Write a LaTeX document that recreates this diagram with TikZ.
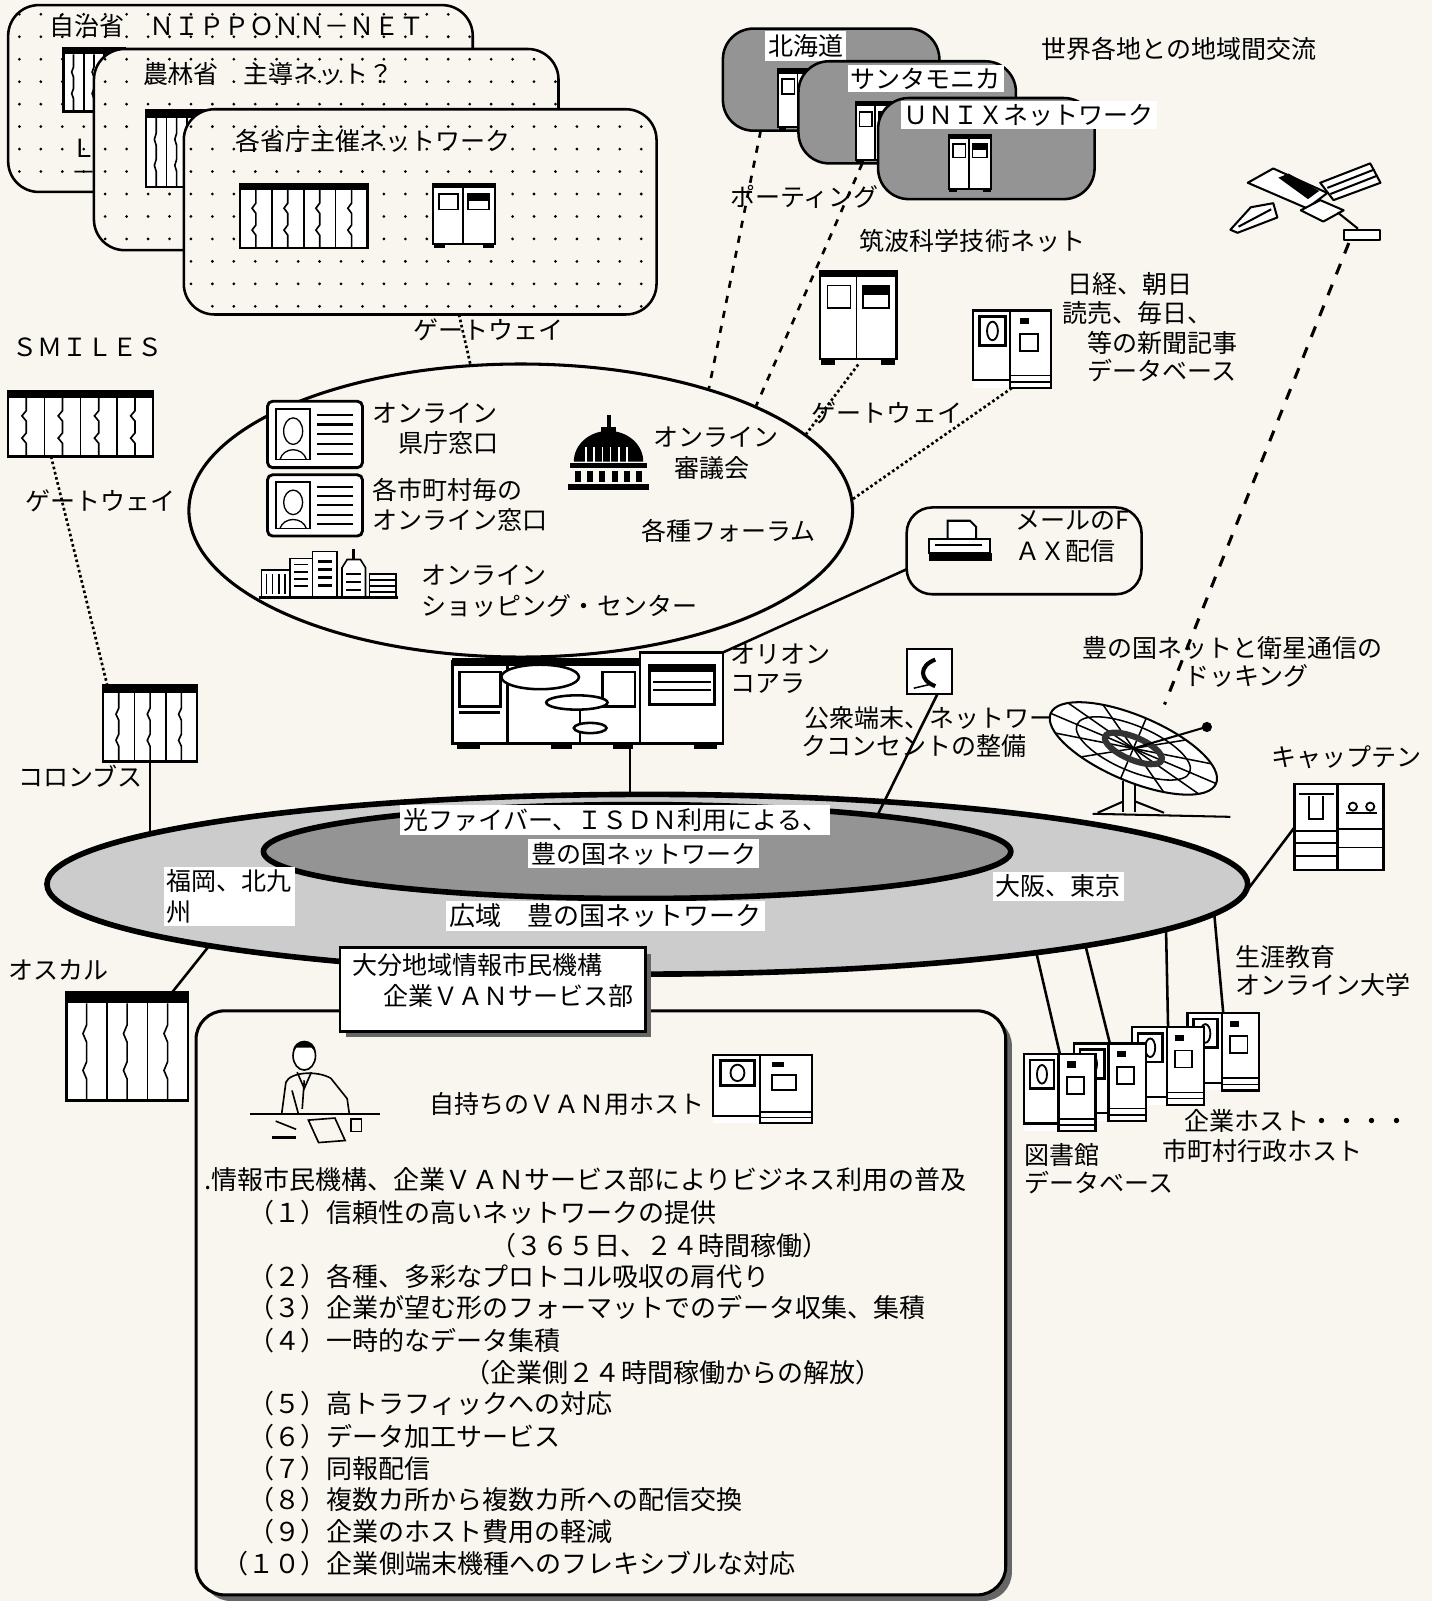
\documentclass[tikz,border=0pt]{standalone}
\usepackage{fontspec}
\setmainfont{Noto Sans CJK JP}
\usepackage{tikz}
\usetikzlibrary{shapes.geometric,positioning}

\definecolor{paper}{RGB}{248,246,239}
\newcommand{\jfont}{\fontsize{24.5}{29.5}\selectfont}
\newcommand{\listfont}{\fontsize{25.5}{31}\selectfont}

% dotted panel of a ministry network
\newcommand{\dotcard}[4]{%
  \begin{scope}
    \clip[rounded corners=30pt] (#1,#2) rectangle (#3,#4);
    \fill[paper] (#1,#2) rectangle (#3,#4);
    \foreach \dx in {19,40,...,660}
      \foreach \dy in {14,36,...,320}
        \fill (\dx,\dy) circle (1.5);
  \end{scope}
  \draw[line width=2.5pt,rounded corners=30pt] (#1,#2) rectangle (#3,#4);
}
% shaded panel of a regional network
\newcommand{\graycard}[4]{%
  \draw[line width=2.5pt,rounded corners=30pt,fill=black!42] (#1,#2) rectangle (#3,#4);
}

\tikzset{
  pics/rackicon/.style={code={
    \fill[white] (0,0) rectangle (1,1);
    \fill[black] (0,0) rectangle (1,0.1);
    \draw[line width=2.5pt] (0,0) rectangle (1,1);
    \foreach \k in {1,...,#1} {
      \pgfmathsetmacro{\bx}{\k/#1}
      \pgfmathsetmacro{\wx}{(\k-0.5)/#1}
      \draw[line width=1.6pt] (\bx,0.1) -- (\bx,1);
      \draw[line width=1.6pt] (\wx,0.1) -- (\wx,0.3) -- (\wx-0.03,0.38) -- (\wx,0.46)
        -- (\wx,0.64) -- (\wx-0.03,0.72) -- (\wx,0.8) -- (\wx,1);
    }
  }},
  pics/hosticon/.style={code={
    \fill[white] (0,0) rectangle (1,0.94);
    \fill (0,0) rectangle (1,0.07);
    \draw[line width=2pt] (0,0) rectangle (1,0.94);
    \draw[line width=1.5pt] (0.48,0.07) -- (0.48,0.94);
    \draw[line width=1.5pt] (0.1,0.16) rectangle (0.4,0.4);
    \draw[line width=1.5pt] (0.56,0.16) rectangle (0.9,0.4);
    \fill (0.56,0.16) rectangle (0.9,0.26);
    \fill (0.02,0.94) rectangle (0.2,1);
    \fill (0.8,0.94) rectangle (0.98,1);
  }},
  pics/diskhost/.style={code={
    \fill[white] (0,0) rectangle (1,1);
    \draw[line width=2.2pt] (0,0) rectangle (0.48,0.9);
    \draw[line width=2.2pt] (0.48,0) rectangle (1,1);
    \draw[line width=2.6pt] (0.08,0.08) rectangle (0.42,0.45);
    \draw[line width=1.8pt] (0.25,0.265) ellipse (0.07 and 0.12);
    \fill (0.6,0.1) rectangle (0.72,0.18);
    \draw[line width=1.8pt] (0.6,0.3) rectangle (0.84,0.52);
    \draw[line width=1.5pt] (0.48,0.84) -- (1,0.84);
    \draw[line width=1.5pt] (0.48,0.92) -- (1,0.92);
  }},
  pics/idcard/.style={code={
    \draw[line width=2.8pt,rounded corners=5pt,fill=white] (0,0) rectangle (1,1);
    \draw[line width=1.5pt] (0.09,0.12) rectangle (0.45,0.88);
    \draw[line width=1.3pt] (0.27,0.45) ellipse (0.1 and 0.2);
    \draw[line width=1.3pt] (0.13,0.88) .. controls (0.17,0.68) and (0.37,0.68) .. (0.41,0.88);
    \foreach \ly in {0.2,0.35,0.5,0.65,0.8}
      \draw[line width=2pt] (0.52,\ly) -- (0.9,\ly);
  }}
}

\begin{document}
\begin{tikzpicture}[x=1pt,y=-1pt,
  lbl/.style={anchor=west,align=left,font=\jfont},
  listlbl/.style={anchor=west,font=\listfont},
  boxlbl/.style={lbl,fill=white,inner sep=3pt},
  iconbox/.style={anchor=north west,inner sep=0pt,outer sep=0pt},
  dotline/.style={line width=2.6pt,dash pattern=on 2.6pt off 2.6pt},
  dashline/.style={line width=2.6pt,dash pattern=on 7pt off 8pt},
  longdash/.style={line width=3pt,dash pattern=on 11pt off 11pt},
  link/.style={line width=2.5pt}]
\tikzstyle{every node}+=[inner sep=0pt]
\fill[paper] (0,0) rectangle (1402,1568);
\useasboundingbox (0,0) rectangle (1402,1568);

% ministry networks
\dotcard{8}{5}{463}{188}
\node[lbl] (jichi) at (48,25) {自治省　ＮＩＰＰＯＮＮ－ＮＥＴ};
\pic[xscale=60,yscale=62] at (62,47) {rackicon=3};
\node[lbl,anchor=north west] (jichil) at (70,136) {Ｌ\\[-6pt]－};
\dotcard{92}{48}{547}{245}
\node[lbl] (norin) at (140,72) {農林省　主導ネット？};
\pic[xscale=60,yscale=75] at (143,108) {rackicon=3};
\dotcard{180}{107}{643}{308}
\node[iconbox,minimum width=463pt,minimum height=201pt] (kakusho) at (180,107) {};
\node[lbl] (kakusholbl) at (230,138) {各省庁主催ネットワーク};
\pic[xscale=125,yscale=63] at (235,180) {rackicon=4};
\pic[xscale=61,yscale=63] at (424,180) {hosticon};

% regional networks
\graycard{708}{28}{920}{128}
\node[iconbox,minimum width=212pt,minimum height=100pt] (hokkaido) at (708,28) {};
\pic[xscale=40,yscale=60] at (762,68) {hosticon};
\node[boxlbl] (hokkaidolbl) at (749,45) {北海道};
\graycard{782}{60}{995}{160}
\node[iconbox,minimum width=213pt,minimum height=100pt] (santa) at (782,60) {};
\pic[xscale=40,yscale=60] at (838,100) {hosticon};
\node[boxlbl] (santalbl) at (830,77) {サンタモニカ};
\graycard{860}{96}{1072}{195}
\pic[xscale=42,yscale=56] at (929,132) {hosticon};
\node[boxlbl] (unixlbl) at (882,113) {ＵＮＩＸネットワーク};
\node[lbl] (world) at (1020,48) {世界各地との地域間交流};
\node[lbl] (porting) at (715,193) {ポーティング};
\node[lbl] (tsukubalbl) at (842,236) {筑波科学技術ネット};
\node[iconbox,minimum width=75pt,minimum height=92pt] (tsukuba) at (803,265) {};
\pic[xscale=75,yscale=92] at (tsukuba.north west) {hosticon};
\node[iconbox,minimum width=76pt,minimum height=76pt] (nikkei) at (953,304) {};
\pic[xscale=76,yscale=76] at (nikkei.north west) {diskhost};
\node[lbl] (news1) at (1045,278) {日経、朝日};
\node[lbl] (news2) at (1040,307) {読売、毎日、};
\node[lbl] (news3) at (1065,336) {等の新聞記事};
\node[lbl] (news4) at (1065,363) {データベース};

% satellite
\node[iconbox,minimum width=150pt,minimum height=79pt] (satellite) at (1205,159) {};
\begin{scope}[line width=2pt,line join=round]
  \draw[fill=white] (1222,179) -- (1247,165) -- (1300,189) -- (1280,204) -- cycle;
  \fill (1252,174) -- (1262,170) -- (1292,187) -- (1281,195) -- cycle;
  \draw[fill=white] (1293,179) -- (1342,160) -- (1352,179) -- (1306,196) -- cycle;
  \draw (1300,184) -- (1346,166);
  \draw (1303,190) -- (1349,172);
  \draw[fill=white] (1274,206) -- (1293,196) -- (1316,206) -- (1296,217) -- cycle;
  \draw[fill=white] (1205,225) -- (1225,203) -- (1247,199) -- (1251,213) -- (1212,228) -- cycle;
  \draw (1213,222) -- (1245,205);
  \draw (1310,208) -- (1330,224);
  \draw[fill=white] (1316,225) rectangle (1352,235);
\end{scope}

% gateways to the forum
\node[lbl] (gw1) at (405,323) {ゲートウェイ};
\node[lbl] (smileslbl) at (12,340) {ＳＭＩＬＥＳ};
\node[iconbox,minimum width=142pt,minimum height=64pt] (smiles) at (8,383) {};
\pic[xscale=142,yscale=64] at (smiles.north west) {rackicon=4};
\node[lbl] (gw2) at (25,491) {ゲートウェイ};
\node[lbl] (gw3) at (795,404) {ゲートウェイ};

% host of the forum
\node[iconbox,minimum width=265pt,minimum height=89pt] (orion) at (443,639) {};
\begin{scope}[line width=2.5pt]
  \draw[fill=white] (443,648) rectangle (627,728);
  \draw[fill=white] (627,639) rectangle (708,728);
  \fill (443,644) rectangle (627,652);
  \draw (497,652) -- (497,728);
  \draw (450,658) rectangle (490,692);
  \draw (450,698) -- (490,698);
  \draw (590,658) rectangle (622,692);
  \draw[fill=white] (529,663) ellipse (38 and 12);
  \draw[fill=white] (565,688) ellipse (30 and 7);
  \draw (568,695) -- (568,728);
  \draw[fill=white] (578,713) ellipse (16 and 5);
  \draw (636,652) rectangle (700,690);
  \fill (636,652) rectangle (700,658);
  \draw[line width=1.5pt] (640,668) -- (696,668);
  \draw[line width=1.5pt] (640,676) -- (696,676);
  \fill (448,728) rectangle (470,734);
  \fill (540,728) rectangle (560,734);
  \fill (600,728) rectangle (620,734);
  \fill (680,728) rectangle (702,734);
\end{scope}
\node[lbl] (orionlbl) at (715,641) {オリオン};
\node[lbl] (koalalbl) at (715,670) {コアラ};

% forum and its services
\node[ellipse,draw,line width=3pt,minimum width=650pt,minimum height=287pt] (forum) at (510,500) {};
\pic[xscale=93,yscale=65] at (262,393) {idcard};
\node[lbl] (kencho1) at (365,405) {オンライン};
\node[lbl] (kencho2) at (390,434) {県庁窓口};
\pic[xscale=93,yscale=60] at (262,465) {idcard};
\node[lbl] (shicho1) at (365,480) {各市町村毎の};
\node[lbl] (shicho2) at (365,509) {オンライン窓口};
\begin{scope}[line width=1.6pt]
  \draw[fill=white] (256,558) rectangle (284,585);
  \foreach \xx in {261,267,273,279} \draw (\xx,562) -- (\xx,582);
  \draw[fill=white] (284,547) rectangle (306,585);
  \foreach \yy in {553,560,567,574} \draw (288,\yy) -- (302,\yy);
  \draw[fill=white] (306,540) rectangle (330,585);
  \foreach \yy in {548,556,564,572} \fill (311,\yy) rectangle (325,\yy+3);
  \fill (345,538) rectangle (348,548);
  \draw[fill=white] (335,556) -- (340,548) -- (353,548) -- (358,556) -- (358,585) -- (335,585) -- cycle;
  \foreach \yy in {562,570,578} \draw (339,\yy) -- (354,\yy);
  \draw[fill=white] (362,562) rectangle (388,585);
  \foreach \yy in {568,574,580} \draw (362,\yy) -- (388,\yy);
  \draw[line width=2.5pt] (254,585) -- (390,585);
\end{scope}
\node[lbl] (shop1) at (413,563) {オンライン};
\node[lbl] (shop2) at (413,593) {ショッピング・センター};
\fill (594,406) rectangle (598,420);
\fill (589,418) rectangle (603,424);
\fill (562,452) arc[start angle=180,end angle=360,x radius=34,y radius=30];
\foreach \xx in {574,582,590,598,606,614} \draw[white,line width=1.5pt] (\xx,438) -- (\xx,452);
\fill (558,453) rectangle (634,458);
\foreach \xx in {566,578,590,602,614,626} \fill (\xx-3,461) rectangle (\xx+3,472);
\fill (556,474) rectangle (636,480);
\node[lbl] (shingi1) at (640,428) {オンライン};
\node[lbl] (shingi2) at (660,458) {審議会};
\node[lbl] (forumlbl) at (628,520) {各種フォーラム};

% mail to fax
\node[iconbox,draw,line width=2.5pt,rounded corners=25pt,minimum width=230pt,minimum height=85pt] (fax) at (888,497) {};
\begin{scope}[line width=2pt]
  \draw[fill=white] (928,510) -- (950,510) -- (956,516) -- (956,532) -- (928,532) -- cycle;
  \draw[fill=white] (910,528) rectangle (970,542);
  \fill (910,542) rectangle (972,549);
  \draw[line width=1.5pt] (916,534) -- (962,534);
\end{scope}
\node[lbl] (faxlbl1) at (994,510) {メールのF};
\node[lbl] (faxlbl2) at (994,540) {ＡＸ配信};

% public terminal
\node[iconbox,draw,line width=2pt,fill=white,minimum width=44pt,minimum height=44pt] (phone) at (888,636) {};
\draw[line width=4pt] (916,646) .. controls (900,652) and (900,666) .. (916,672);
\draw[line width=1.5pt] (895,674) -- (912,670);
\node[lbl] (publ1) at (788,703) {公衆端末、ネットワー};
\node[lbl] (publ2) at (785,731) {クコンセントの整備};

% satellite link
\node[lbl] (dock1) at (1060,635) {豊の国ネットと衛星通信の};
\node[lbl] (dock2) at (1160,662) {ドッキング};
\node[iconbox,minimum width=169pt,minimum height=87pt] (dish) at (1026,690) {};
\begin{scope}[line width=2pt]
  \draw (1100,765) -- (1100,795);
  \draw (1112,765) -- (1112,795);
  \draw (1075,796) -- (1100,785);
  \draw (1112,785) -- (1140,796);
  \draw (1070,797) -- (1205,800);
  \draw[fill=white,rotate around={-23:(1110,733)}] (1110,733) ellipse (88 and 32);
  \begin{scope}[rotate around={-23:(1110,733)}]
    \foreach \a in {0,30,...,330} \draw[line width=1.5pt] (1110,733) -- ++(\a:88 and 32);
    \draw[line width=1.5pt] (1110,733) ellipse (60 and 22);
    \draw[line width=6pt,black!80] (1110,733) ellipse (30 and 11);
  \end{scope}
  \draw (1110,733) -- (1178,713);
  \fill (1182,712) circle (5);
\end{scope}

% terminal service
\node[lbl] (captainlbl) at (1245,742) {キャップテン};
\node[iconbox,minimum width=87pt,minimum height=84pt] (captain) at (1268,768) {};
\begin{scope}[line width=2.5pt]
  \draw[fill=white] (1268,768) rectangle (1310,852);
  \draw[fill=white] (1310,768) rectangle (1355,852);
  \draw[line width=1.8pt] (1272,778) -- (1306,778);
  \draw[line width=1.8pt] (1282,780) -- (1282,802) -- (1296,802) -- (1296,780);
  \foreach \yy in {814,826,838} \draw[line width=1.8pt] (1268,\yy) -- (1310,\yy);
  \draw[line width=1.8pt] (1325,790) circle (4);
  \draw[line width=1.8pt] (1342,790) circle (4);
  \draw[line width=1.8pt] (1318,796) -- (1349,796);
  \foreach \yy in {812,830} \draw[line width=1.8pt] (1310,\yy) -- (1355,\yy);
\end{scope}

% left hosts
\node[lbl] (columbuslbl) at (18,760) {コロンブス};
\node[iconbox,minimum width=92pt,minimum height=75pt] (columbus) at (101,671) {};
\pic[xscale=92,yscale=75] at (columbus.north west) {rackicon=3};
\node[lbl] (oscarlbl) at (8,950) {オスカル};
\node[iconbox,minimum width=119pt,minimum height=106pt] (oscar) at (65,972) {};
\pic[xscale=119,yscale=106] at (oscar.north west) {rackicon=3};

% library and school hosts
\node[lbl] (school1) at (1210,937) {生涯教育};
\node[lbl] (school2) at (1210,965) {オンライン大学};
\foreach \sx/\sy [count=\n] in {1003/1032,1052/1022,1109/1006,1163/992}
  \node[iconbox,minimum width=70pt,minimum height=76pt] (lib\n) at (\sx,\sy) {};
\foreach \n in {4,3,2,1}
  \pic[xscale=70,yscale=76] at (lib\n.north west) {diskhost};
\node[lbl] (corp1) at (1160,1098) {企業ホスト・・・・};
\node[lbl] (corp2) at (1138,1127) {市町村行政ホスト};
\node[lbl] (libr1) at (1003,1131) {図書館};
\node[lbl] (libr2) at (1003,1158) {データベース};

% connections
\node[ellipse,minimum width=1176pt,minimum height=176pt] (ring) at (634,866) {};
\draw[dotline] ([xshift=38pt]kakusho.south) -- (forum.109);
\draw[dashline] ([xshift=-69pt]hokkaido.south) -- (forum.33);
\draw[dashline] ([xshift=-44pt]santa.south) -- (forum.24);
\draw[dotline] (tsukuba.south) -- (forum.15);
\draw[dotline] (nikkei.south) -- (forum.2);
\draw[dotline] ([xshift=-29pt]smiles.south) -- ([xshift=-42pt]columbus.north);
\draw[longdash] ([xshift=41pt]satellite.south) -- ([xshift=30pt]dish.north);
\draw[link] ([yshift=-18pt]fax.west) -- (orion.north east);
\draw[link] (columbus.south) -- (columbus.south |- ring.174);
\draw[link] ([xshift=41.5pt]orion.south) -- ([xshift=41.5pt]orion.south |- ring.north);
\draw[link] ([xshift=44pt]oscar.north) -- (ring.188);
\draw[link] (ring.-1.5) -- (captain.west);
\foreach \n/\ang in {1/-10,2/-8,3/-5.8,4/-3.6}
  \draw[link] (ring.\ang) -- (lib\n.north);

% wide area ring
\node[ellipse,draw,line width=5.5pt,fill=black!20,minimum width=1176pt,minimum height=176pt] (ringband) at (ring) {};
\node[ellipse,draw,line width=5.5pt,fill=black!42,minimum width=732pt,minimum height=92pt] (fiber) at (624,834) {};
\draw[link] ([xshift=8pt]phone.south) -- (fiber.9);
\node[boxlbl] (fiberlbl1) at (392,803) {光ファイバー、ＩＳＤＮ利用による、};
\node[boxlbl] (fiberlbl2) at (517,836) {豊の国ネットワーク};
\node[boxlbl] (westlbl) at (160,878) {福岡、北九\\州\hspace*{4em}};
\node[boxlbl] (eastlbl) at (972,868) {大阪、東京};
\node[boxlbl,font=\listfont] (ringlbl) at (437,897) {広域　豊の国ネットワーク};

% business service
\fill[black!60] (198,996) [rounded corners=28pt] rectangle (991,1568);
\draw[line width=3pt,fill=paper,rounded corners=28pt] (192,990) rectangle (985,1562);
\fill[black!60] (339,934) rectangle (638,1016);
\draw[line width=2.5pt,fill=white] (333,928) rectangle (632,1010);
\node[lbl] (oita1) at (345,945) {大分地域情報市民機構};
\node[lbl] (oita2) at (375,975) {企業ＶＡＮサービス部};
\begin{scope}[line width=1.6pt]
  \draw[fill=white] (298,1034) ellipse (11 and 14);
  \fill (287,1030) .. controls (287,1016) and (309,1016) .. (309,1030) -- (305,1026) -- (290,1026) -- cycle;
  \draw (276,1090) -- (280,1060) .. controls (284,1050) and (310,1048) .. (324,1056) -- (340,1076) -- (342,1090);
  \draw (291,1050) -- (298,1066) -- (305,1050);
  \draw (298,1058) -- (296,1086);
  \draw (286,1068) -- (292,1090);
  \draw[line width=2pt] (245,1091) -- (372,1091);
  \draw (302,1097) -- (328,1095) -- (338,1117) -- (312,1119) -- cycle;
  \draw (344,1096) rectangle (354,1108);
  \draw (270,1098) -- (290,1106);
  \draw[line width=2.5pt] (266,1114) -- (290,1114);
\end{scope}
\node[lbl] (ownhost) at (420,1081) {自持ちのＶＡＮ用ホスト};
\node[iconbox,minimum width=97pt,minimum height=67pt] (vanhost) at (698,1033) {};
\pic[xscale=97,yscale=67] at (vanhost.north west) {diskhost};
\node[listlbl] (spread) at (200,1155) {.情報市民機構、企業ＶＡＮサービス部によりビジネス利用の普及};
\foreach \ly/\lx/\lt [count=\n] in {
  1188/243/{（１）信頼性の高いネットワークの提供},
  1220/480/{（３６５日、２４時間稼働）},
  1250/243/{（２）各種、多彩なプロトコル吸収の肩代り},
  1281/243/{（３）企業が望む形のフォーマットでのデータ収集、集積},
  1313/243/{（４）一時的なデータ集積},
  1344/455/{（企業側２４時間稼働からの解放）},
  1375/243/{（５）高トラフィックへの対応},
  1407/243/{（６）データ加工サービス},
  1438/243/{（７）同報配信},
  1469/243/{（８）複数カ所から複数カ所への配信交換},
  1500/243/{（９）企業のホスト費用の軽減},
  1531/218/{（１０）企業側端末機種へのフレキシブルな対応}}
  \node[listlbl] (item\n) at (\lx,\ly) {\lt};
\end{tikzpicture}
\end{document}
